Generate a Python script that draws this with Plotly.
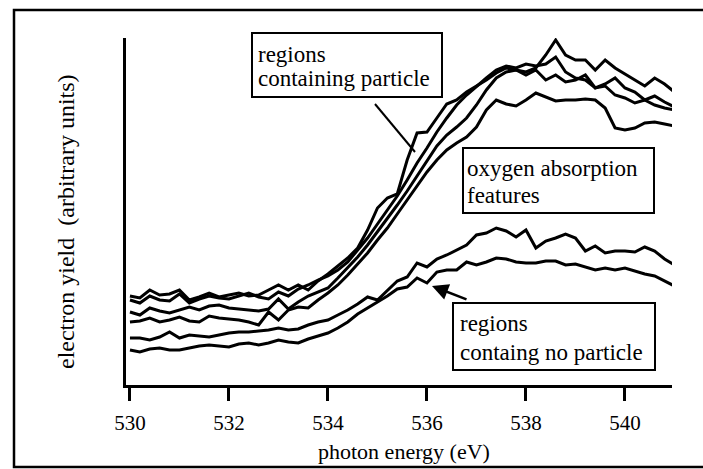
import plotly.graph_objects as go

# photon energy sample points (eV)
energy = [530.0, 530.2, 530.4, 530.6, 530.8, 531.0, 531.2, 531.4, 531.6, 531.8,
          532.0, 532.2, 532.4, 532.6, 532.8, 533.0, 533.2, 533.4, 533.6, 533.8,
          534.0, 534.2, 534.4, 534.6, 534.8, 535.0, 535.2, 535.4, 535.6, 535.8,
          536.0, 536.2, 536.4, 536.6, 536.8, 537.0, 537.2, 537.4, 537.6, 537.8,
          538.0, 538.2, 538.4, 538.6, 538.8, 539.0, 539.2, 539.4, 539.6, 539.8,
          540.0, 540.2, 540.4, 540.6, 540.8, 541.0]

# electron yield (arbitrary units) - regions containing particle
particle_1 = [89, 87, 95, 90, 91, 95, 85, 88, 92, 88, 90, 92, 89, 90, 95, 100, 95, 100, 95, 104,
              111, 119, 127, 137, 155, 177, 187, 191, 225, 252, 253, 267, 281, 285, 293, 299, 305, 312, 317, 315,
              313, 317, 330, 345, 330, 325, 325, 315, 325, 317, 311, 305, 299, 307, 301, 293]
particle_2 = [85, 82, 89, 85, 84, 91, 82, 86, 89, 87, 86, 89, 92, 88, 86, 93, 89, 96, 100, 105,
              109, 115, 123, 135, 147, 161, 175, 189, 205, 222, 237, 253, 267, 280, 290, 299, 307, 315, 319, 317,
              321, 319, 321, 328, 313, 307, 305, 297, 299, 290, 287, 282, 285, 289, 283, 278]
particle_3 = [73, 70, 77, 74, 72, 75, 78, 75, 79, 80, 77, 76, 75, 74, 76, 86, 76, 83, 89, 93,
              97, 107, 117, 128, 140, 153, 166, 180, 194, 209, 225, 239, 250, 258, 267, 280, 295, 307, 313, 315,
              310, 315, 305, 310, 303, 305, 310, 297, 301, 307, 297, 293, 285, 280, 277, 275]
particle_4 = [63, 64, 67, 63, 65, 68, 64, 63, 69, 67, 66, 65, 63, 60, 73, 65, 75, 78, 77, 85,
              92, 100, 110, 121, 132, 145, 157, 171, 185, 199, 213, 225, 235, 242, 248, 258, 275, 285, 281, 279,
              285, 292, 288, 284, 285, 285, 286, 285, 277, 257, 255, 257, 262, 263, 261, 259]

# electron yield (arbitrary units) - regions containing no particle
noparticle_1 = [47, 47, 45, 48, 53, 47, 50, 49, 48, 50, 52, 53, 53, 54, 55, 57, 55, 56, 60, 63,
                65, 70, 75, 81, 88, 85, 95, 104, 108, 122, 118, 126, 130, 135, 140, 150, 152, 157, 154, 148,
                155, 137, 144, 147, 151, 147, 134, 139, 132, 134, 134, 133, 138, 134, 126, 120]
noparticle_2 = [35, 33, 36, 37, 35, 35, 37, 39, 40, 39, 38, 41, 42, 40, 42, 45, 43, 42, 46, 49,
                52, 57, 63, 71, 77, 83, 89, 96, 98, 107, 102, 113, 115, 115, 123, 120, 123, 127, 126, 123,
                122, 122, 124, 124, 120, 121, 118, 115, 117, 115, 117, 114, 111, 109, 104, 99]

series = [particle_1, particle_2, particle_3, particle_4, noparticle_1, noparticle_2]

x_ticks = [530, 532, 534, 536, 538, 540]
x_title = "photon energy (eV)"
y_title = "electron yield  (arbitrary units)"

FONT = "Liberation Serif"
W_PX, H_PX = 703, 469
L, R, T, B = 126, 672, 38, 385
PW, PH = R - L, B - T


def fx(p):
    return (p - L) / PW


def fy(p):
    return (B - p) / PH


fig = go.Figure()
for s in series:
    fig.add_trace(go.Scatter(x=energy, y=s, mode="lines",
                             line=dict(color="black", width=3),
                             showlegend=False, hoverinfo="skip"))

shapes = []
# outer frame
shapes.append(dict(type="rect", xref="paper", yref="paper",
                   x0=fx(14), x1=fx(712), y0=fy(467), y1=fy(10),
                   line=dict(color="black", width=2.5)))
# text boxes
for (x0, y0, x1, y1) in [(252, 33, 442, 97), (463, 148, 654, 213), (453, 303, 655, 370)]:
    shapes.append(dict(type="rect", xref="paper", yref="paper",
                       x0=fx(x0), x1=fx(x1), y0=fy(y1), y1=fy(y0),
                       line=dict(color="black", width=2), fillcolor="rgba(0,0,0,0)"))
# pointer line from the "particle" box
shapes.append(dict(type="line", xref="paper", yref="paper",
                   x0=fx(375), y0=fy(104), x1=fx(415), y1=fy(152),
                   line=dict(color="black", width=2)))

annotations = []


def txt(s, xp, yp):
    annotations.append(dict(text=s, xref="paper", yref="paper", x=fx(xp), y=fy(yp),
                            xanchor="left", yanchor="middle", showarrow=False,
                            font=dict(family=FONT, size=23, color="black")))


txt("regions", 256, 55)
txt("containing particle", 256, 78)
txt("oxygen absorption", 465, 168)
txt("features", 465, 195)
txt("regions", 458, 323)
txt("containg no particle", 458, 352)

# arrow toward the no-particle curves
annotations.append(dict(text="", xref="paper", yref="paper", x=fx(432), y=fy(286),
                        ax=468 - 432, ay=300 - 286, axref="pixel", ayref="pixel",
                        showarrow=True, arrowhead=2, arrowsize=1.3, arrowwidth=2.5,
                        arrowcolor="black"))

# axis titles
annotations.append(dict(text=x_title, xref="paper", yref="paper", x=fx(404), y=fy(451),
                        xanchor="center", yanchor="middle", showarrow=False,
                        font=dict(family=FONT, size=22, color="black")))
annotations.append(dict(text=y_title, xref="paper", yref="paper", x=fx(66), y=fy(222),
                        xanchor="center", yanchor="middle", showarrow=False, textangle=-90,
                        font=dict(family=FONT, size=24, color="black")))

fig.update_layout(
    width=W_PX, height=H_PX,
    margin=dict(l=L, r=W_PX - R, t=T, b=H_PX - B),
    paper_bgcolor="white", plot_bgcolor="white",
    shapes=shapes, annotations=annotations,
    font=dict(family=FONT, color="black"),
    xaxis=dict(range=[529.92, 540.95], tickvals=x_ticks,
               ticktext=[str(v) for v in x_ticks],
               ticks="outside", ticklen=13, tickwidth=3, tickcolor="black",
               showline=True, linewidth=3, linecolor="black",
               showgrid=False, zeroline=False,
               tickfont=dict(family=FONT, size=21, color="black"),
               ticklabelstandoff=4),
    yaxis=dict(range=[0, 347], showline=True, linewidth=3, linecolor="black",
               showticklabels=False, ticks="", showgrid=False, zeroline=False),
)

fig.write_html("out.html")
